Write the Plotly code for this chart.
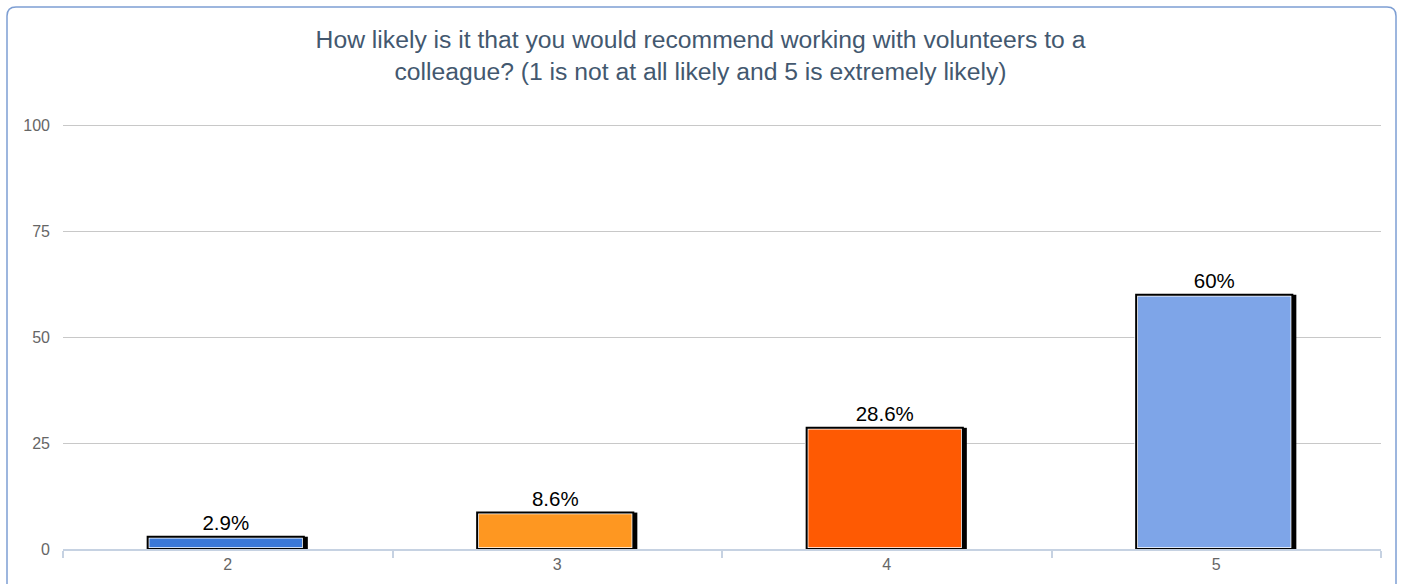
import plotly.graph_objects as go

categories = ["2", "3", "4", "5"]
values = [2.9, 8.6, 28.6, 60]
bar_colors = ["#3a78d8", "#fe9721", "#fe5a03", "#7ea5e8"]
title_text = "How likely is it that you would recommend working with volunteers to a<br>colleague? (1 is not at all likely and 5 is extremely likely)"
y_ticks = [0, 25, 50, 75, 100]

L, R, T, B = 63, 20, 124, 35
W, H = 1401, 584
pw = W - L - R
ph = H - T - B

bw = 0.474
unit = 4 / pw  # one pixel expressed in category units (4 categories across plot)
shift = -2 * unit

FONT = "Liberation Sans, Arial, sans-serif"

fig = go.Figure()
# main colored bar with white inner border
fig.add_trace(go.Bar(x=categories, y=values, width=bw, offset=-bw / 2 + shift,
                     marker=dict(color=bar_colors, line=dict(color="white", width=3.5)),
                     showlegend=False))
# black outline + labels
fig.add_trace(go.Bar(x=categories, y=values, width=bw, offset=-bw / 2 + shift,
                     marker=dict(color="rgba(0,0,0,0)", line=dict(color="black", width=2)),
                     text=[f"{v:g}%" for v in values], textposition="outside",
                     textfont=dict(color="black", size=20.5, family=FONT),
                     cliponaxis=False, hoverinfo="skip", showlegend=False))
# right-side shadow
fig.add_trace(go.Bar(x=categories, y=values, width=4 * unit, offset=bw / 2 + shift,
                     marker=dict(color="black", line=dict(width=0)),
                     hoverinfo="skip", showlegend=False))

# rounded border around the whole chart (paper coords)
def px(xp):
    return (xp - L) / pw

def py(yp):
    return (H - B - yp) / ph

x0, x1, y0, y1, r = 7, 1396, 7, 600, 9
path = (f"M {px(x0 + r)} {py(y0)} L {px(x1 - r)} {py(y0)} "
        f"Q {px(x1)} {py(y0)} {px(x1)} {py(y0 + r)} "
        f"L {px(x1)} {py(y1)} L {px(x0)} {py(y1)} L {px(x0)} {py(y0 + r)} "
        f"Q {px(x0)} {py(y0)} {px(x0 + r)} {py(y0)} Z")

fig.update_layout(
    width=W, height=H,
    margin=dict(l=L, r=R, t=T, b=B),
    paper_bgcolor="white", plot_bgcolor="white",
    barmode="overlay",
    font=dict(family=FONT),
    title=dict(text=title_text, x=0.5, xanchor="center", y=1 - 48 / H, yanchor="top",
               font=dict(size=24.7, color="#43586f", family=FONT)),
    xaxis=dict(type="category", tickson="boundaries", ticks="outside", ticklen=7,
               tickcolor="#c6d2e2", tickwidth=2, showline=True, linecolor="#c6d2e2", linewidth=2,
               showgrid=False, tickfont=dict(size=16, color="#666666"), range=[-0.5, 3.5]),
    yaxis=dict(range=[0, 100.3], tickvals=y_ticks, showgrid=True, gridcolor="#c8c8c8", gridwidth=1,
               zeroline=False, showline=False, ticks="", ticklabelstandoff=12,
               tickfont=dict(size=16, color="#666666")),
    shapes=[dict(type="path", xref="paper", yref="paper", path=path,
                 line=dict(color="#7d9ed3", width=1.5), fillcolor="rgba(0,0,0,0)", layer="above")],
)

fig.write_html("out.html", config={"displayModeBar": False},
               post_script="document.body.style.margin='0';")
